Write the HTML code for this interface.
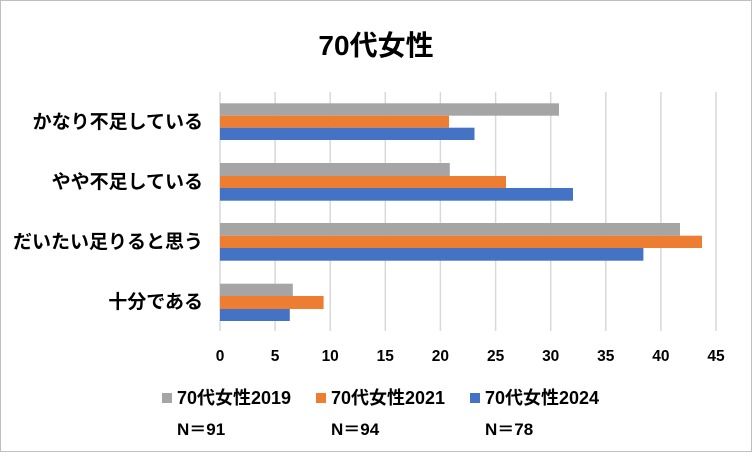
<!DOCTYPE html>
<html><head><meta charset="utf-8"><style>
body{margin:0;background:#fff}
svg text{font-family:"Liberation Sans","Noto Sans CJK JP",sans-serif;font-weight:bold;fill:#000}
</style></head><body>
<svg width="752" height="452" xmlns="http://www.w3.org/2000/svg">
<rect x="0.5" y="0.5" width="751" height="451" fill="#fff" stroke="#bfbfbf"/>
<text x="376" y="55" font-size="28" text-anchor="middle">70代女性</text>
<g stroke="#d9d9d9" stroke-width="1.5">
<line x1="220" y1="92" x2="220" y2="331"/><line x1="275.1" y1="92" x2="275.1" y2="331"/>
<line x1="330.2" y1="92" x2="330.2" y2="331"/><line x1="385.3" y1="92" x2="385.3" y2="331"/>
<line x1="440.4" y1="92" x2="440.4" y2="331"/><line x1="495.6" y1="92" x2="495.6" y2="331"/>
<line x1="550.7" y1="92" x2="550.7" y2="331"/><line x1="605.8" y1="92" x2="605.8" y2="331"/>
<line x1="660.9" y1="92" x2="660.9" y2="331"/><line x1="716" y1="92" x2="716" y2="331"/>
</g>
<g>
<rect x="220" y="103.3" width="339" height="12.4" fill="#a5a5a5"/>
<rect x="220" y="115.7" width="229" height="12" fill="#ed7d31"/>
<rect x="220" y="127.7" width="254.5" height="12.3" fill="#4472c4"/>
<rect x="220" y="163" width="229.8" height="13" fill="#a5a5a5"/>
<rect x="220" y="176" width="286" height="12" fill="#ed7d31"/>
<rect x="220" y="188" width="353" height="12.7" fill="#4472c4"/>
<rect x="220" y="223" width="460" height="12.7" fill="#a5a5a5"/>
<rect x="220" y="235.7" width="482" height="12.3" fill="#ed7d31"/>
<rect x="220" y="248" width="423.4" height="12.7" fill="#4472c4"/>
<rect x="220" y="283.7" width="72.8" height="12.3" fill="#a5a5a5"/>
<rect x="220" y="296" width="103.6" height="13" fill="#ed7d31"/>
<rect x="220" y="309" width="69.8" height="12" fill="#4472c4"/>
</g>
<g font-size="19" text-anchor="end">
<text x="203" y="128">かなり不足している</text>
<text x="203" y="188">やや不足している</text>
<text x="203" y="248">だいたい足りると思う</text>
<text x="203" y="308">十分である</text>
</g>
<g font-size="15.5" text-anchor="middle">
<text x="220" y="361">0</text><text x="275.1" y="361">5</text><text x="330.2" y="361">10</text>
<text x="385.3" y="361">15</text><text x="440.4" y="361">20</text><text x="495.6" y="361">25</text>
<text x="550.7" y="361">30</text><text x="605.8" y="361">35</text><text x="660.9" y="361">40</text>
<text x="716" y="361">45</text>
</g>
<rect x="162" y="393" width="10" height="10" fill="#a5a5a5"/>
<rect x="316" y="393" width="10" height="10" fill="#ed7d31"/>
<rect x="470" y="393" width="10" height="10" fill="#4472c4"/>
<g font-size="18">
<text x="177" y="404">70代女性2019</text>
<text x="331" y="404">70代女性2021</text>
<text x="485" y="404">70代女性2024</text>
</g>
<g font-size="17">
<text x="177" y="435">N＝91</text>
<text x="331" y="435">N＝94</text>
<text x="485" y="435">N＝78</text>
</g>
</svg>
</body></html>
